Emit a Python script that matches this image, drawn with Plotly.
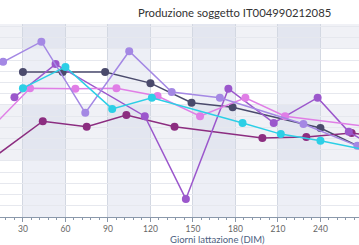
import plotly.graph_objects as go

# Data (days in milk, production kg)
navy_d = [30, 58, 88, 120, 149, 178, 240, 272]
navy_v = [35.9, 35.9, 35.9, 33.9, 30.4, 29.6, 25.9, 22.0]

cyan_d = [30, 60, 93, 121, 185, 212, 240, 272]
cyan_v = [33.0, 36.8, 29.3, 31.3, 26.8, 24.8, 23.6, 22.0]

pink_d = [8, 35, 67, 96, 125, 155, 187, 215, 272]
pink_v = [26.0, 33.0, 32.9, 33.0, 31.6, 28.0, 31.3, 28.0, 26.2]

lav_d = [8, 16, 43, 74, 105, 135, 169, 228, 266]
lav_v = [36.6, 37.7, 41.3, 28.6, 39.6, 32.3, 31.3, 26.6, 22.7]

purple_d = [24, 53, 116, 145, 175, 207, 238, 260, 275]
purple_v = [31.4, 37.3, 28.0, 13.2, 32.9, 26.8, 31.3, 25.2, 23.0]

plum_d = [8, 44, 75, 103, 137, 199, 230, 262, 275]
plum_v = [20.4, 27.1, 26.1, 28.2, 26.1, 24.1, 24.3, 25.0, 24.6]

series = [
    (navy_d, navy_v, "#4a4a6c"),
    (plum_d, plum_v, "#8c2d80"),
    (purple_d, purple_v, "#9b57cc"),
    (pink_d, pink_v, "#e07ee6"),
    (lav_d, lav_v, "#a488e4"),
    (cyan_d, cyan_v, "#2ccfe6"),
]

fig = go.Figure()
for d, v, c in series:
    fig.add_trace(go.Scatter(x=d, y=v, mode="lines+markers",
                             line=dict(color=c, width=1.5),
                             marker=dict(color=c, size=8),
                             showlegend=False, hoverinfo="skip"))

shapes = []
for a in [30, 90, 150, 210]:
    shapes.append(dict(type="rect", xref="x", yref="paper", x0=a, x1=a + 30, y0=0, y1=1,
                       fillcolor="rgba(190,198,222,0.28)", line=dict(width=0), layer="below"))
for a in [20, 40]:
    shapes.append(dict(type="rect", xref="paper", yref="y", x0=0, x1=1, y0=a, y1=a + 10,
                       fillcolor="rgba(205,210,225,0.30)", line=dict(width=0), layer="below"))

fig.update_layout(
    width=359, height=245,
    margin=dict(l=0, r=0, t=24, b=28),
    paper_bgcolor="white", plot_bgcolor="white",
    shapes=shapes,
    font=dict(family="Lato, Open Sans, sans-serif"),
    annotations=[
        dict(text="Produzione soggetto IT004990212085", xref="paper", yref="paper",
             x=0.652, y=1.0, yshift=12, xanchor="center", yanchor="middle", showarrow=False,
             font=dict(size=11.3, color="#333333")),
        dict(text="Giorni lattazione (DIM)", xref="paper", yref="paper",
             x=0.605, y=0, yshift=-22, xanchor="center", yanchor="middle", showarrow=False,
             font=dict(size=9.5, color="#4d6080")),
    ],
)
fig.update_xaxes(range=[13.8, 267.2], tick0=0, dtick=30, ticks="outside", ticklen=4,
                 tickcolor="#8a98aa", showline=True, linecolor="#8a98aa", linewidth=1,
                 showgrid=True, gridcolor="#d3d8e2", zeroline=False,
                 tickfont=dict(size=8.5, color="#666666"),
                 minor=dict(dtick=6, tick0=0, ticks="outside", ticklen=2, tickcolor="#8a98aa", showgrid=False))
fig.update_yaxes(range=[10, 44.46], dtick=2, showticklabels=False, showgrid=True,
                 gridcolor="#e6e8ee", zeroline=False)

fig.write_html("out.html", config={"displayModeBar": False},
               post_script="document.body.style.margin='0';document.body.style.overflow='hidden';")
